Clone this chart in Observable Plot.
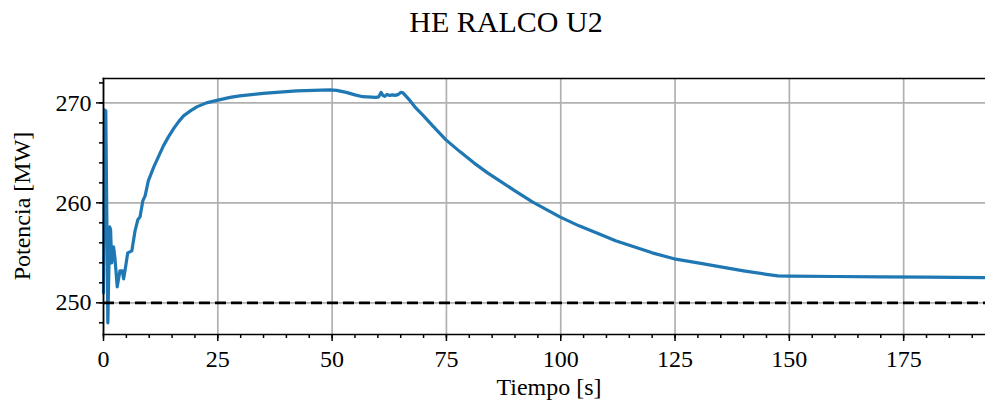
<!DOCTYPE html>
<html>
<head>
<meta charset="utf-8">
<script src="https://cdn.jsdelivr.net/npm/d3@7"></script>
<script src="https://cdn.jsdelivr.net/npm/@observablehq/plot@0.6"></script>
<style>
  body { margin: 0; background: white; }
  #wrap { position: relative; width: 985px; height: 407px; font-family: "Liberation Serif", serif; color: black; overflow: hidden; }
  .lbl { position: absolute; white-space: nowrap; transform: translate(-50%, -50%); }
</style>
</head>
<body>
<div id="wrap">
  <div class="lbl" style="left:506px; top:22px; font-size:30px;">HE RALCO U2</div>
  <div class="lbl" style="left:549px; top:387px; font-size:24px;">Tiempo [s]</div>
  <div class="lbl" style="left:22px; top:206px; font-size:24px; transform: translate(-50%, -50%) rotate(-90deg);">Potencia [MW]</div>
</div>
<script>
// Time [s]
const tiempo = [0, 0.25, 0.5, 0.95, 1.35, 1.55, 1.8, 2.2, 2.5, 3.0, 3.6, 4.1, 4.4, 4.8, 5.3, 6.2, 6.9, 7.5, 8.0, 8.6, 9.1, 9.8,
  11.0, 12.0, 13.1, 14.2, 15.3, 16.4, 17.5, 19.0, 20.4, 22.5, 24.8, 27.7, 29.8, 34.9, 42.2, 49.5, 51.0, 53.1, 55.0, 56.7,
  59.6, 60.2, 60.7, 61.1, 61.5, 62.0, 62.6, 63.2, 63.8, 64.5, 65.0, 65.5, 66.1, 67.0, 68.3, 70.0, 72.0, 74.9, 78, 81, 84,
  87, 90, 93.8, 97, 99.8, 104, 108.3, 112, 116, 120, 124.8, 130, 135, 140, 145, 147.5, 150, 160, 170, 180, 193];
// Active power [MW]
const potencia = [251, 269.3, 269.2, 248.0, 257.6, 257.3, 254.0, 255.6, 254.5, 251.6, 253.2, 253.2, 252.4, 253.5, 255.0, 255.2, 257.2, 258.3, 258.6, 260.2, 260.7, 262.2,
  263.6, 264.6, 265.7, 266.6, 267.4, 268.1, 268.7, 269.2, 269.6, 270.0, 270.25, 270.55, 270.7, 270.95, 271.2, 271.3, 271.25, 271.05, 270.8, 270.62,
  270.55, 270.6, 271.05, 270.75, 270.65, 270.85, 270.75, 270.8, 270.75, 270.85, 271.05, 271.0, 270.7, 270.25, 269.5, 268.7, 267.7, 266.3, 265.1, 264.0, 263.0,
  262.1, 261.2, 260.1, 259.3, 258.6, 257.7, 256.9, 256.2, 255.6, 255.0, 254.4, 254.0, 253.6, 253.2, 252.85, 252.7, 252.67, 252.63, 252.6, 252.56, 252.52];
// Reference level [MW]
const referencia = [250];
// Tick values
const xMajor = [0, 25, 50, 75, 100, 125, 150, 175];
const xMinor = [0, 5, 10, 15, 20, 25, 30, 35, 40, 45, 50, 55, 60, 65, 70, 75, 80, 85, 90, 95, 100, 105, 110, 115, 120, 125, 130, 135, 140, 145, 150, 155, 160, 165, 170, 175, 180, 185, 190];
const yMajor = [250, 260, 270];
const yMinor = [248, 250, 252, 254, 256, 258, 260, 262, 264, 266, 268, 270, 272];
const xDomain = [0, 192.9];
const yDomain = [246.83, 272.44];

const data = tiempo.map((t, i) => ({t, p: potencia[i]}));
const grid = {stroke: "#b0b0b0", strokeOpacity: 1, strokeWidth: 1.7};
const font = {fontFamily: "Liberation Serif", fontSize: 24};

const chart = Plot.plot({
  width: 985,
  height: 407,
  marginTop: 78,
  marginBottom: 73,
  marginLeft: 103,
  marginRight: 0,
  style: {fontFamily: "Liberation Serif, serif", fontSize: "24px", color: "black", background: "transparent", overflow: "visible"},
  x: {domain: xDomain, label: null},
  y: {domain: yDomain, label: null},
  marks: [
    Plot.gridX(xMajor, grid),
    Plot.gridY(yMajor, grid),
    Plot.line(data, {x: "t", y: "p", stroke: "#1f77b4", strokeWidth: 3.2, curve: "linear"}),
    Plot.ruleY(referencia, {stroke: "black", strokeWidth: 2.7, strokeDasharray: "11,5"}),
    Plot.axisX(xMinor, {tickSize: 4, strokeWidth: 1.5, tickFormat: () => "", label: null}),
    Plot.axisX(xMajor, {tickSize: 7, strokeWidth: 1.5, tickPadding: 8, label: null, ...font}),
    Plot.axisY(yMinor, {tickSize: 4, strokeWidth: 1.5, tickFormat: () => "", label: null}),
    Plot.axisY(yMajor, {tickSize: 7, strokeWidth: 1.5, tickPadding: 5, label: null, ...font}),
    Plot.frame({anchor: "left", strokeWidth: 1.7}),
    Plot.frame({anchor: "top", strokeWidth: 1.7}),
    Plot.frame({anchor: "bottom", strokeWidth: 1.7})
  ]
});
chart.style.position = "absolute";
chart.style.left = "0px";
chart.style.top = "0px";
document.getElementById("wrap").prepend(chart);
</script>
</body>
</html>
